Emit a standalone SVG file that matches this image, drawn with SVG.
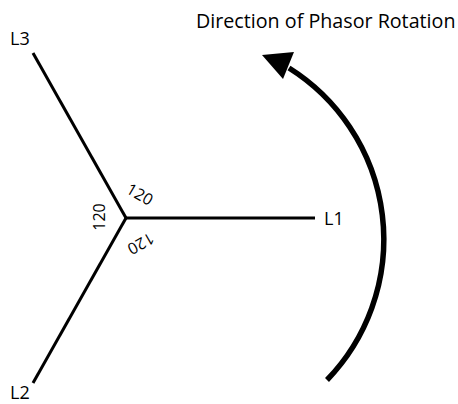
<svg xmlns="http://www.w3.org/2000/svg" width="458" height="404" viewBox="0 0 458 404">
  <defs>
    <style>
      .ph { stroke: #000; stroke-width: 3; fill: none; stroke-linecap: butt; }
      .lbl { font-family: "Open Sans", "Liberation Sans", sans-serif; font-size: 18px; fill: #000; }
      .ttl { font-family: "Open Sans", "Liberation Sans", sans-serif; font-size: 19.7px; fill: #000; }
      .ang { font-family: "Open Sans", "Liberation Sans", sans-serif; font-size: 16px; fill: #000; text-anchor: middle; dominant-baseline: central; }
      .rot { stroke: #000; stroke-width: 5.5; fill: none; }
    </style>
  </defs>
  <rect width="458" height="404" fill="#fff"/>
  <g id="connectors">
    <line class="ph" x1="126" y1="218" x2="315" y2="218"/>
    <line class="ph" x1="126" y1="218" x2="33" y2="53"/>
    <line class="ph" x1="126" y1="218" x2="33" y2="383"/>
  </g>
  <g id="L1"><text class="lbl" x="324" y="225">L1</text></g>
  <g id="L2"><text class="lbl" x="10" y="399">L2</text></g>
  <g id="L3"><text class="lbl" x="10" y="45">L3</text></g>
  <g id="angles">
    <text class="ang" transform="translate(140,194) rotate(30)">120</text>
    <text class="ang" transform="translate(99,217) rotate(-90)">120</text>
    <text class="ang" transform="translate(141,244) rotate(150)">120</text>
  </g>
  <g id="rotation">
    <path class="rot" d="M 327 380 A 202.4 202.4 0 0 0 289 68"/>
    <polygon points="262,55 294,52 283,79" fill="#000"/>
    <text class="ttl" x="196" y="28">Direction of Phasor Rotation</text>
  </g>
</svg>
